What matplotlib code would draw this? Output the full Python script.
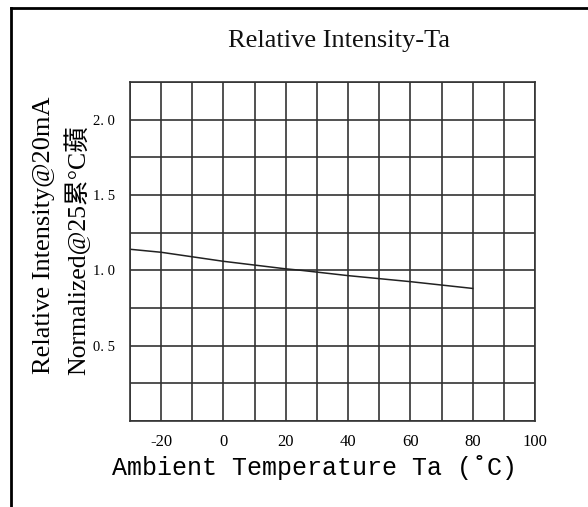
import matplotlib
matplotlib.use("Agg")
import matplotlib.pyplot as plt
from matplotlib.lines import Line2D

# curve (normalized to 1.0 at 25 C)
temps = [-30, -20, 0, 20, 25, 40, 60, 80]
intensity = [1.14, 1.12, 1.06, 1.01, 1.00, 0.965, 0.925, 0.88]

x_grid = list(range(-30, 101, 10))
y_grid = [0, 0.25, 0.5, 0.75, 1.0, 1.25, 1.5, 1.75, 2.0, 2.25]
x_ticks = [-20, 0, 20, 40, 60, 80, 100]
y_ticks = [0.5, 1.0, 1.5, 2.0]
y_tick_labels = ["0. 5", "1. 0", "1. 5", "2. 0"]

serif = ["Liberation Serif", "Noto Sans CJK SC", "DejaVu Sans"]

fig = plt.figure(figsize=(5.88, 5.07), dpi=100)
ax = fig.add_axes([0.2211, 0.1696, 0.6888, 0.6686])

grid_col = "#333333"
for gx in x_grid:
    ax.axvline(gx, color=grid_col, lw=1.2)
for gy in y_grid:
    ax.axhline(gy, color=grid_col, lw=1.2)

ax.plot(temps, intensity, color="#222222", lw=1.1)

ax.set_xlim(-30, 100)
ax.set_ylim(0, 2.25)
ax.set_xticks(x_ticks)
ax.set_xticklabels([str(t) for t in x_ticks], family=serif, fontsize=12)
ax.set_yticks(y_ticks)
ax.set_yticklabels(y_tick_labels, family=serif, fontsize=10.5)
ax.tick_params(length=0, pad=9)
ax.tick_params(axis="y", pad=11)
for s in ax.spines.values():
    s.set_color(grid_col)
    s.set_linewidth(1.2)

fig.text(339 / 588, 0.919, "Relative Intensity-Ta", family=serif,
         fontsize=19, ha="center", va="center", color="#111111")
fig.text(315 / 588, 40 / 507, "Ambient Temperature Ta (˚C)",
         family=["Liberation Mono", "DejaVu Sans Mono"], fontsize=18,
         ha="center", va="center")
fig.text(44 / 588, 272 / 507, "Relative Intensity@20mA", family=serif,
         fontsize=19, rotation=90, ha="center", va="center")
fig.text(77 / 588, 257 / 507, "Normalized@25累°C蘋", family=serif,
         fontsize=18.5, rotation=90, ha="center", va="center")

# outer frame (left and top edges only)
fig.add_artist(Line2D([11 / 588, 11 / 588], [0, 1 - 8 / 507],
                      transform=fig.transFigure, color="black", lw=2))
fig.add_artist(Line2D([11 / 588, 1], [1 - 8 / 507, 1 - 8 / 507],
                      transform=fig.transFigure, color="black", lw=2))

fig.savefig("out.png", dpi=100)
